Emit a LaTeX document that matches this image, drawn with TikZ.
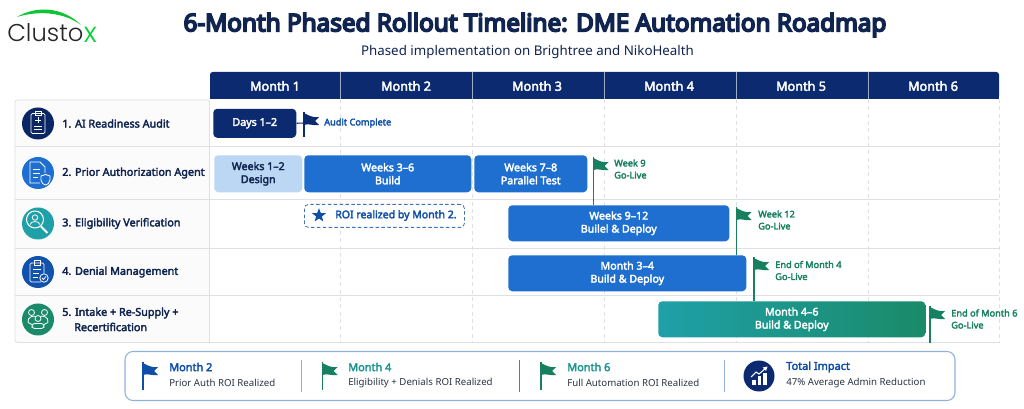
\documentclass[tikz,border=0pt]{standalone}
\usepackage{fontspec}
\setmainfont{Noto Sans}
\newfontfamily\logofont{Poppins Light}
\newfontfamily\semi[FakeBold=3]{Noto Sans}
\newfontfamily\heavy[FakeBold=7]{Noto Sans}
\usetikzlibrary{shapes.geometric}
\definecolor{navy}{HTML}{0B2A6F}
\definecolor{titlec}{HTML}{10244F}
\definecolor{blueb}{HTML}{1E6FD0}
\definecolor{lightb}{HTML}{BBD7F3}
\definecolor{greenf}{HTML}{178060}
\definecolor{gridc}{HTML}{DDE1E6}
\definecolor{tealb}{HTML}{1FA0A8}
\definecolor{greenb}{HTML}{1A8A68}
\definecolor{flagblue}{HTML}{0F4FA8}
\definecolor{legendb}{HTML}{8FB0D8}
\definecolor{greytx}{HTML}{2B3444}
\newcommand{\fs}[1]{\fontsize{#1}{#1}\selectfont}
\tikzset{
 x=0.75pt,y=-0.75pt,
 bar/.style={rounded corners=3pt,inner sep=0,align=center,text=white,font=\fontsize{8}{9.75}\selectfont\semi,anchor=north west},
 rowlabel/.style={anchor=west,text=titlec,font=\fs{8.1}\semi,inner sep=0,align=left},
 mhead/.style={text=white,font=\fs{9.5}\semi,inner sep=0},
 golive/.style={anchor=west,text=greenf,font=\fontsize{6.9}{9}\selectfont\semi,align=left,inner sep=0},
 lgtitle/.style={anchor=west,font=\fs{8.2}\semi,inner sep=0},
 lgtext/.style={anchor=west,text=greytx,font=\fs{7.25},inner sep=0},
 iconline/.style={draw=white,line width=0.6pt,fill=none},
 griddash/.style={draw=gridc,line width=0.6pt,dash pattern=on 3pt off 2.5pt},
 gridsolid/.style={draw=gridc,line width=0.6pt},
}
% pole x, top y, bottom y, colour
\newcommand{\flagmark}[4]{%
 \draw[#4,line width=0.9pt] (#1,#2) -- (#1,#3);
 \fill[#4] (#1,#2+1) .. controls (#1+4,#2+3) and (#1+8,#2+6) .. (#1+15,#2+5)
   -- (#1+11,#2+9) -- (#1+15,#2+13) .. controls (#1+9,#2+14) and (#1+4,#2+11) .. (#1,#2+13) -- cycle;
}
\begin{document}
\begin{tikzpicture}
\useasboundingbox (0,0) rectangle (1024,409);
\fill[white] (0,0) rectangle (1024,409);

% logo
\fill[greenb!50!green] (17,17) .. controls (35,6) and (62,6) .. (81,25) .. controls (62,11) and (36,11) .. (17,17) -- cycle;
\node[inner sep=0,anchor=base west,text=black!85] (logo) at (7,42) {\logofont\fs{18.2}Clusto};
\node[inner sep=0,anchor=base west,text=green!65!teal] (logox) at (83.5,43) {\logofont\fs{21}x};

% titles
\node[inner sep=0,text=titlec,font=\fs{18.2}\heavy] (title) at (535,25) {6-Month Phased Rollout Timeline: DME Automation Roadmap};
\node[inner sep=0,text=titlec,font=\fs{10}] (subtitle) at (527.5,52) {Phased implementation on Brightree and NikoHealth};

% table
\fill[black!1.5,rounded corners=2pt] (15,100) rectangle (209,343);
\draw[griddash] (340.5,99) -- (340.5,343);
\draw[griddash] (472,99) -- (472,343);
\draw[griddash] (604,99) -- (604,343);
\draw[griddash] (736,99) -- (736,343);
\draw[griddash] (868,99) -- (868,343);
\draw[griddash] (999,99) -- (999,343);
\draw[gridsolid,rounded corners=2pt] (209,100) -- (15,100) -- (15,342.5) -- (999,342.5);
\draw[gridsolid] (209,100) -- (209,342.5);
\draw[gridsolid] (15,146) -- (999,146);
\draw[gridsolid] (15,199) -- (999,199);
\draw[gridsolid] (15,248) -- (999,248);
\draw[gridsolid] (15,295.5) -- (999,295.5);

% header
\fill[navy,rounded corners=2pt] (210,72) -- (999,72) -- (999,99) -- (210,99) -- cycle;
\fill[navy] (210,80) rectangle (999,99);
\foreach \mx in {340.5,472,604,736,868} \draw[white!60!navy,line width=0.5pt] (\mx,72) -- (\mx,99);
\node[mhead] (m1) at (275,86) {Month 1};
\node[mhead] (m2) at (406,86) {Month 2};
\node[mhead] (m3) at (537,86) {Month 3};
\node[mhead] (m4) at (669,86) {Month 4};
\node[mhead] (m5) at (801,86) {Month 5};
\node[mhead] (m6) at (933,86) {Month 6};

% row icons
\fill[navy!90!black] (38,123.5) circle (16);
\fill[blueb] (38,173) circle (16);
\fill[tealb] (38,223.5) circle (16);
\fill[flagblue!90!blueb] (38,272) circle (16);
\fill[greenb] (38,319.5) circle (16);

% icon 1: clipboard
\begin{scope}[shift={(38,123.5)}]
\draw[iconline,rounded corners=1pt] (-7,-10) rectangle (7,10);
\draw[iconline] (-3,-12) rectangle (3,-8);
\draw[iconline] (-3,-3) -- (3,-3) (0,-6) -- (0,0);
\draw[iconline] (-4,3) -- (4,3) (-4,6) -- (4,6);
\end{scope}
% icon 2: document shield
\begin{scope}[shift={(38,173)}]
\draw[iconline] (-8,-11) -- (2,-11) -- (7,-6) -- (7,0) (2,10) -- (-8,10) -- (-8,-11);
\draw[iconline] (-5,-4) -- (2,-4) (-5,0) -- (2,0) (-5,4) -- (0,4);
\draw[iconline,fill=blueb] (3,3) -- (7.5,1.5) -- (12,3) -- (12,7) .. controls (12,10) and (9,12) .. (7.5,12) .. controls (6,12) and (3,10) .. (3,7) -- cycle;
\end{scope}
% icon 3: magnifier person
\begin{scope}[shift={(38,223.5)}]
\draw[iconline,line width=0.8pt] (-3,-4) circle (8.5);
\draw[iconline] (-3,-6) circle (2.7);
\draw[iconline] (-8,1) .. controls (-7,-3) and (1,-3) .. (2,1);
\draw[white,line width=1.4pt] (3,3) -- (9.5,9.5);
\end{scope}
% icon 4: clipboard check
\begin{scope}[shift={(38,272)}]
\draw[iconline,rounded corners=1pt] (3,10) -- (-8,10) -- (-8,-9) -- (6,-9) -- (6,1);
\draw[iconline] (-4,-12) rectangle (2,-7);
\draw[iconline] (-5,-3) -- (3,-3) (-5,1) -- (1,1) (-5,5) -- (0,5);
\draw[iconline] (6,6) circle (4.2);
\draw[iconline] (4,6) -- (5.5,7.5) -- (8,4.5);
\end{scope}
% icon 5: people
\begin{scope}[shift={(38,319.5)}]
\draw[iconline] (-6.5,-7) circle (3) (6.5,-7) circle (3) (0,-1) circle (3);
\draw[iconline] (-10,3) .. controls (-11,-3) and (-4,-4) .. (-2.5,-3);
\draw[iconline] (10,3) .. controls (11,-3) and (4,-4) .. (2.5,-3);
\draw[iconline,rounded corners=2pt] (-6,9) -- (-6,4) -- (6,4) -- (6,9) -- cycle;
\draw[iconline] (-10,3) -- (-6,5) (10,3) -- (6,5);
\end{scope}

% row labels
\node[rowlabel] (r1) at (62,123.5) {1. AI Readiness Audit};
\node[rowlabel] (r2) at (62,173) {2. Prior Authorization Agent};
\node[rowlabel] (r3) at (62,223.5) {3. Eligibility Verification};
\node[rowlabel] (r4) at (62,272) {4. Denial Management};
\node[rowlabel] (r5) at (62,313) {5. Intake + Re-Supply +};
\node[rowlabel] (r5b) at (74,327) {Recertification};

% flag poles behind bars
\flagmark{593.5}{157}{205}{greenf}
\flagmark{736.5}{207}{255}{greenf}
\flagmark{754}{257}{301}{greenf}
\flagmark{930}{306}{343}{greenf}

% bars
\node[bar,fill=navy,minimum width=62.25pt,minimum height=21.75pt] (b1) at (213,108.5) {Days 1–2};
\coordinate (audit) at (304,123);
\draw[navy,line width=0.8pt] (b1.east) -- (audit);
\flagmark{304}{112}{137}{navy}

\node[bar,fill=lightb,text=titlec,minimum width=66pt,minimum height=27.75pt] (b2) at (214,155) {Weeks 1–2\\Design};
\node[bar,fill=blueb,minimum width=125.25pt,minimum height=27.75pt] (b3) at (304,155) {Weeks 3–6\\Build};
\node[bar,fill=blueb,minimum width=84.75pt,minimum height=27.75pt] (b4) at (474,155) {Weeks 7–8\\Parallel Test};
\node[bar,fill=blueb,minimum width=165.75pt,minimum height=27pt] (b5) at (508,205) {Weeks 9–12\\Builel \& Deploy};
\node[bar,fill=blueb,minimum width=178.5pt,minimum height=27pt] (b6) at (508,255) {Month 3–4\\Build \& Deploy};
\node[bar,left color=tealb,right color=greenb,minimum width=200.25pt,minimum height=27pt] (b7) at (658,301) {Month 4–6\\Build \& Deploy};

% roi box
\node[bar,draw=flagblue!80,dash pattern=on 2.6pt off 1.8pt,line width=0.6pt,fill=white,minimum width=120pt,minimum height=17.25pt] (roi) at (304,204) {};
\node[star,star points=5,star point ratio=2.4,fill=flagblue,inner sep=0,minimum size=11pt] (roistar) at (319,215.5) {};
\node[anchor=west,inner sep=0,text=flagblue,font=\fs{7.9}\semi] (roitext) at (335,215.5) {ROI realized by Month 2.};

% milestone labels
\node[anchor=west,inner sep=0,text=flagblue,font=\fs{6.9}\semi] (l1) at (324,123) {Audit Complete};
\node[golive] (l2) at (614,169) {Week 9\\Go-Live};
\node[golive] (l3) at (758,220) {Week 12\\Go-Live};
\node[golive] (l4) at (775,270.5) {End of Month 4\\Go-Live};
\node[golive] (l5) at (951,319) {End of Month 6\\Go-Live};

% legend
\draw[legendb,line width=0.8pt,fill=white,rounded corners=6pt] (125,351.5) rectangle (955,400.5);
\flagmark{143}{362}{390}{flagblue}
\node[lgtitle,text=flagblue] (g1) at (169,367) {Month 2};
\node[lgtext] (g1b) at (169,383) {Prior Auth ROI Realized};
\draw[legendb,line width=0.7pt] (301,360) -- (301,392);
\flagmark{322.5}{362}{390}{greenf}
\node[lgtitle,text=tealb!70!greenf] (g2) at (348,367) {Month 4};
\node[lgtext] (g2b) at (348,383) {Eligibility + Denials ROI Realized};
\draw[greenf!70!legendb,line width=0.7pt] (519.5,360) -- (519.5,392);
\flagmark{541}{362}{390}{greenf}
\node[lgtitle,text=tealb!70!greenf] (g3) at (567,367) {Month 6};
\node[lgtext] (g3b) at (567,383) {Full Automation ROI Realized};
\draw[legendb,line width=0.7pt] (724.5,360) -- (724.5,392);
\fill[navy] (759,376) circle (15.5);
\begin{scope}[shift={(759,376)}]
\fill[white] (-7,9) rectangle (-3.5,4);
\fill[white] (-1.5,9) rectangle (2,0);
\fill[white] (4,9) rectangle (7.5,-3);
\draw[white,line width=0.8pt] (-8,1) -- (-3,-4) -- (0,-2) -- (7,-8);
\fill[white] (8.5,-9.5) -- (3.5,-8.5) -- (7,-5) -- cycle;
\end{scope}
\node[lgtitle,text=flagblue] (g4) at (786,367) {Total Impact};
\node[lgtext] (g4b) at (786,383) {47\% Average Admin Reduction};
\end{tikzpicture}
\end{document}
